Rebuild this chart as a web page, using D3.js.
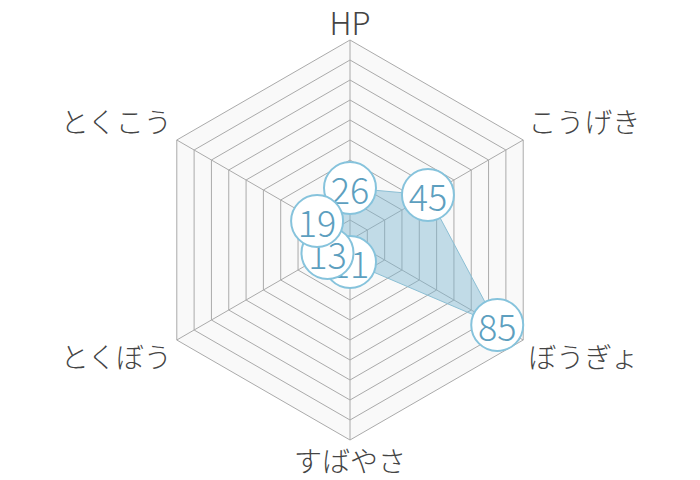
<!DOCTYPE html>
<html><head><meta charset="utf-8">
<script src="https://cdn.jsdelivr.net/npm/d3@7"></script>
<style>html,body{margin:0;padding:0;background:#fff;}svg{display:block;}</style>
</head><body>
<script>
const categories = ["HP","こうげき","ぼうぎょ","すばやさ","とくぼう","とくこう"];
const values = [26, 45, 85, 11, 13, 19];
const maxValue = 100;
const levels = [10,20,30,40,50,60,70,80,90,100];

const W = 700, H = 480, cx = 350, cy = 240, R = 200;
const FONT = "'Noto Sans CJK JP','Noto Sans',sans-serif";
const svg = d3.select("body").append("svg").attr("width", W).attr("height", H);
const g = svg.append("g").attr("transform", `translate(${cx},${cy})`);

const r = d3.scaleLinear().domain([0, maxValue]).range([0, R]);
const angle = d3.scaleLinear().domain([0, categories.length]).range([0, 2*Math.PI]);
const pt = (i, v) => [r(v)*Math.sin(angle(i)), -r(v)*Math.cos(angle(i))];
const line = d3.line();

// background
g.append("path").attr("d", line(categories.map((c,i)=>pt(i,maxValue))) + "Z")
  .attr("fill", "#f9f9f9").attr("stroke", "none");
// grid rings
g.selectAll("path.ring").data(levels).join("path").attr("class","ring")
  .attr("d", l => line(categories.map((c,i)=>pt(i,l))) + "Z")
  .attr("fill","none").attr("stroke","#aaaaaa").attr("stroke-width",1);
// spokes
g.selectAll("line.spoke").data(categories).join("line").attr("class","spoke")
  .attr("x1",0).attr("y1",0)
  .attr("x2",(c,i)=>pt(i,maxValue)[0]).attr("y2",(c,i)=>pt(i,maxValue)[1])
  .attr("stroke","#aaaaaa").attr("stroke-width",1);

// data polygon
g.append("path").attr("d", line(values.map((v,i)=>pt(i,v))) + "Z")
  .attr("fill","rgba(125,182,208,0.45)").attr("stroke","#8cbfd4").attr("stroke-width",1);

// category labels
const labelOff = [[0,-19,"middle",31],[5,-19,"start",28],[5,16,"start",28],[0,20,"middle",28],[-5,16,"end",28],[-5,-19,"end",28]];
g.selectAll("text.cat").data(categories).join("text").attr("class","cat")
  .attr("x",(c,i)=>pt(i,maxValue)[0]+labelOff[i][0])
  .attr("y",(c,i)=>pt(i,maxValue)[1]+labelOff[i][1])
  .attr("text-anchor",(c,i)=>labelOff[i][2])
  .attr("dominant-baseline","central")
  .attr("font-family",FONT).attr("font-weight",300)
  .attr("font-size",(c,i)=>labelOff[i][3]).attr("fill","#444444")
  .text(c=>c);

// value bubbles
const bub = g.selectAll("g.bub").data(values).join("g").attr("class","bub")
  .attr("transform",(v,i)=>`translate(${pt(i,v)[0]},${pt(i,v)[1]})`);
bub.append("circle").attr("r",26).attr("fill","#ffffff").attr("stroke","#86c3dc").attr("stroke-width",2);
bub.append("text").attr("text-anchor","middle").attr("dominant-baseline","central")
  .attr("font-family",FONT).attr("font-weight",300).attr("font-size",36).attr("fill","#5d9fbf")
  .text(v=>v);
</script>
</body></html>
